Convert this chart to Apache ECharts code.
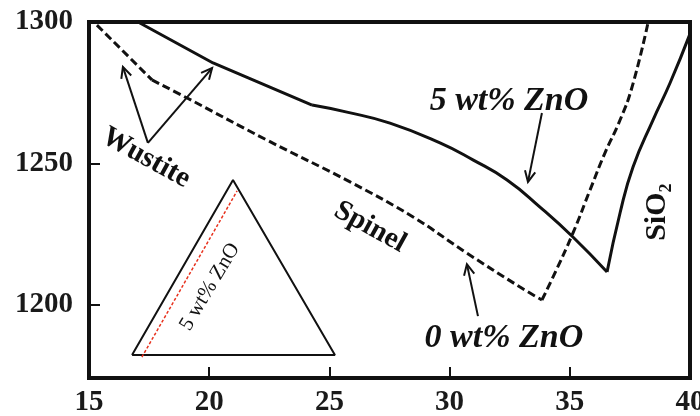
<!DOCTYPE html>
<html><head><meta charset="utf-8">
<script src="https://cdn.jsdelivr.net/npm/echarts@6/dist/echarts.min.js"></script>
<style>html,body{margin:0;padding:0;background:#fff}#c{width:700px;height:416px}</style>
</head><body><div id="c"></div>
<script>
// ---- data ----
const xTickLabels = [15, 20, 25, 30, 35, 40];
const yTickLabels = [1200, 1250, 1300];

// 5 wt% ZnO liquidus (solid)
const zno5X = [17.04, 20.16, 24.28, 25.73, 27.52, 29.60, 30.97, 32.39, 33.76, 35.13, 36.55, 37.09, 37.63, 38.46, 39.17, 40.0];
const zno5Y = [1300, 1285.5, 1270.6, 1268.1, 1264.2, 1257.2, 1251.2, 1244.1, 1234.5, 1223.9, 1211.5, 1232.4, 1248.7, 1265.3, 1278.4, 1295.8];

// 0 wt% ZnO liquidus (dashed)
const zno0X = [15.33, 17.62, 19.08, 22.40, 25.86, 28.48, 30.72, 32.93, 33.84, 34.30, 35.13, 35.84, 36.46, 37.09, 37.59, 38.25];
const zno0Y = [1298.9, 1279.5, 1273.1, 1258.2, 1243.4, 1231.0, 1218.2, 1206.2, 1201.6, 1209.7, 1225.3, 1240.5, 1253.6, 1265.3, 1277.0, 1299.6];

// inset triangle (data coords) and its red 5 wt% ZnO line
const triX = [16.79, 20.99, 25.23, 16.79];
const triY = [1182.1, 1244.1, 1182.1, 1182.1];
const redX = [17.20, 21.16];
const redY = [1181.4, 1240.2];

// arrows: tail x, tail y, tip x, tip y
const arrows = [
  [17.45, 1257.2, 16.41, 1284.1],
  [17.45, 1257.2, 20.12, 1283.7],
  [33.84, 1267.8, 33.26, 1243.4],
  [31.18, 1195.9, 30.72, 1214.3]
];

// text annotations
const labelText = ['Wustite', 'Spinel', '5 wt% ZnO', '0 wt% ZnO', 'SiO\u2082', '5 wt% ZnO'];
const labelAt = [[17.37, 1251.9], [26.69, 1227.4], [32.47, 1272.0], [32.26, 1188.1], [38.63, 1232.7], [20.03, 1206.2]];

// ---- styling ----
const SERIF = '"Liberation Serif", "DejaVu Serif", serif';
const labelFont = [
  'bold 29px ' + SERIF,
  'bold 29px ' + SERIF,
  'italic bold 34px ' + SERIF,
  'italic bold 34px ' + SERIF,
  'bold 30px ' + SERIF,
  '21px ' + SERIF
];
const labelRot = [-29, -29, 0, 0, 90, 59];

const pairs = (xs, ys) => xs.map((x, i) => [x, ys[i]]);
const seg = (xs, ys, a, b) => pairs(xs, ys).slice(a, b + 1);

function arrowItem(params, api) {
  const a = api.coord([api.value(0), api.value(1)]);
  const b = api.coord([api.value(2), api.value(3)]);
  const dx = b[0] - a[0], dy = b[1] - a[1];
  const len = Math.hypot(dx, dy);
  const ux = dx / len, uy = dy / len;
  const L = 12, ang = 0.45;
  const rot = t => [ux * Math.cos(t) - uy * Math.sin(t), ux * Math.sin(t) + uy * Math.cos(t)];
  const r1 = rot(ang), r2 = rot(-ang);
  return {
    type: 'group',
    children: [
      { type: 'line', shape: { x1: a[0], y1: a[1], x2: b[0], y2: b[1] }, style: { stroke: '#111', lineWidth: 2 } },
      { type: 'polyline', shape: { points: [[b[0] - L * r1[0], b[1] - L * r1[1]], [b[0], b[1]], [b[0] - L * r2[0], b[1] - L * r2[1]]] },
        style: { stroke: '#111', lineWidth: 2, fill: null } }
    ]
  };
}

function textItem(params, api) {
  const i = params.dataIndex;
  const p = api.coord([api.value(0), api.value(1)]);
  return {
    type: 'text',
    x: p[0], y: p[1],
    rotation: labelRot[i] * Math.PI / 180,
    style: { text: labelText[i], font: labelFont[i], fill: '#111', align: 'center', verticalAlign: 'middle' }
  };
}

const solidStyle = { color: '#111', width: 3 };
const dashStyle = { color: '#111', width: 3, type: [8, 4] };
const lineSeries = (name, data, style, smooth) => ({
  name, type: 'line', data, symbol: 'none', lineStyle: style, smooth, z: 5
});

const chart = echarts.init(document.getElementById('c'), null, { renderer: 'canvas' });
chart.setOption({
  animation: false,
  backgroundColor: '#fff',
  grid: { left: 89, right: 10, top: 22, bottom: 38, show: true, borderColor: '#111', borderWidth: 4, outerBoundsMode: 'none', containLabel: false },
  xAxis: {
    type: 'value', min: 15, max: 40, interval: 5,
    axisLine: { show: true, onZero: false, lineStyle: { color: '#111', width: 4 } },
    axisTick: { show: true, inside: true, length: 11, lineStyle: { color: '#111', width: 2 }, customValues: [20, 25, 30, 35] },
    axisLabel: { customValues: xTickLabels, margin: 10, color: '#1a1a1a', fontFamily: SERIF, fontWeight: 'bold', fontSize: 29, formatter: v => String(v) },
    splitLine: { show: false }
  },
  yAxis: {
    type: 'value', min: 1174, max: 1300,
    axisLine: { show: true, onZero: false, lineStyle: { color: '#111', width: 4 } },
    axisTick: { show: true, inside: true, length: 11, lineStyle: { color: '#111', width: 2 }, customValues: [1200, 1250] },
    axisLabel: { customValues: yTickLabels, margin: 16, color: '#1a1a1a', fontFamily: SERIF, fontWeight: 'bold', fontSize: 29, formatter: v => String(v) },
    splitLine: { show: false }
  },
  series: [
    lineSeries('5 wt% ZnO a', seg(zno5X, zno5Y, 0, 2), solidStyle, false),
    lineSeries('5 wt% ZnO b', seg(zno5X, zno5Y, 2, 10), solidStyle, 0.5),
    lineSeries('5 wt% ZnO c', seg(zno5X, zno5Y, 10, 15), solidStyle, 0.5),
    lineSeries('0 wt% ZnO a', seg(zno0X, zno0Y, 0, 1), dashStyle, false),
    lineSeries('0 wt% ZnO b', seg(zno0X, zno0Y, 1, 8), dashStyle, 0.4),
    lineSeries('0 wt% ZnO c', seg(zno0X, zno0Y, 8, 15), dashStyle, 0.5),
    { name: 'triangle', type: 'line', data: pairs(triX, triY), symbol: 'none', lineStyle: { color: '#111', width: 2 }, z: 4 },
    { name: 'red', type: 'line', data: pairs(redX, redY), symbol: 'none', lineStyle: { color: '#e8321e', width: 1.5, type: [3, 2] }, z: 4 },
    { name: 'arrows', type: 'custom', renderItem: arrowItem, data: arrows, encode: { x: [0, 2], y: [1, 3] }, z: 6 },
    { name: 'labels', type: 'custom', renderItem: textItem, data: labelAt, encode: { x: 0, y: 1 }, z: 7 }
  ]
});
</script></body></html>
